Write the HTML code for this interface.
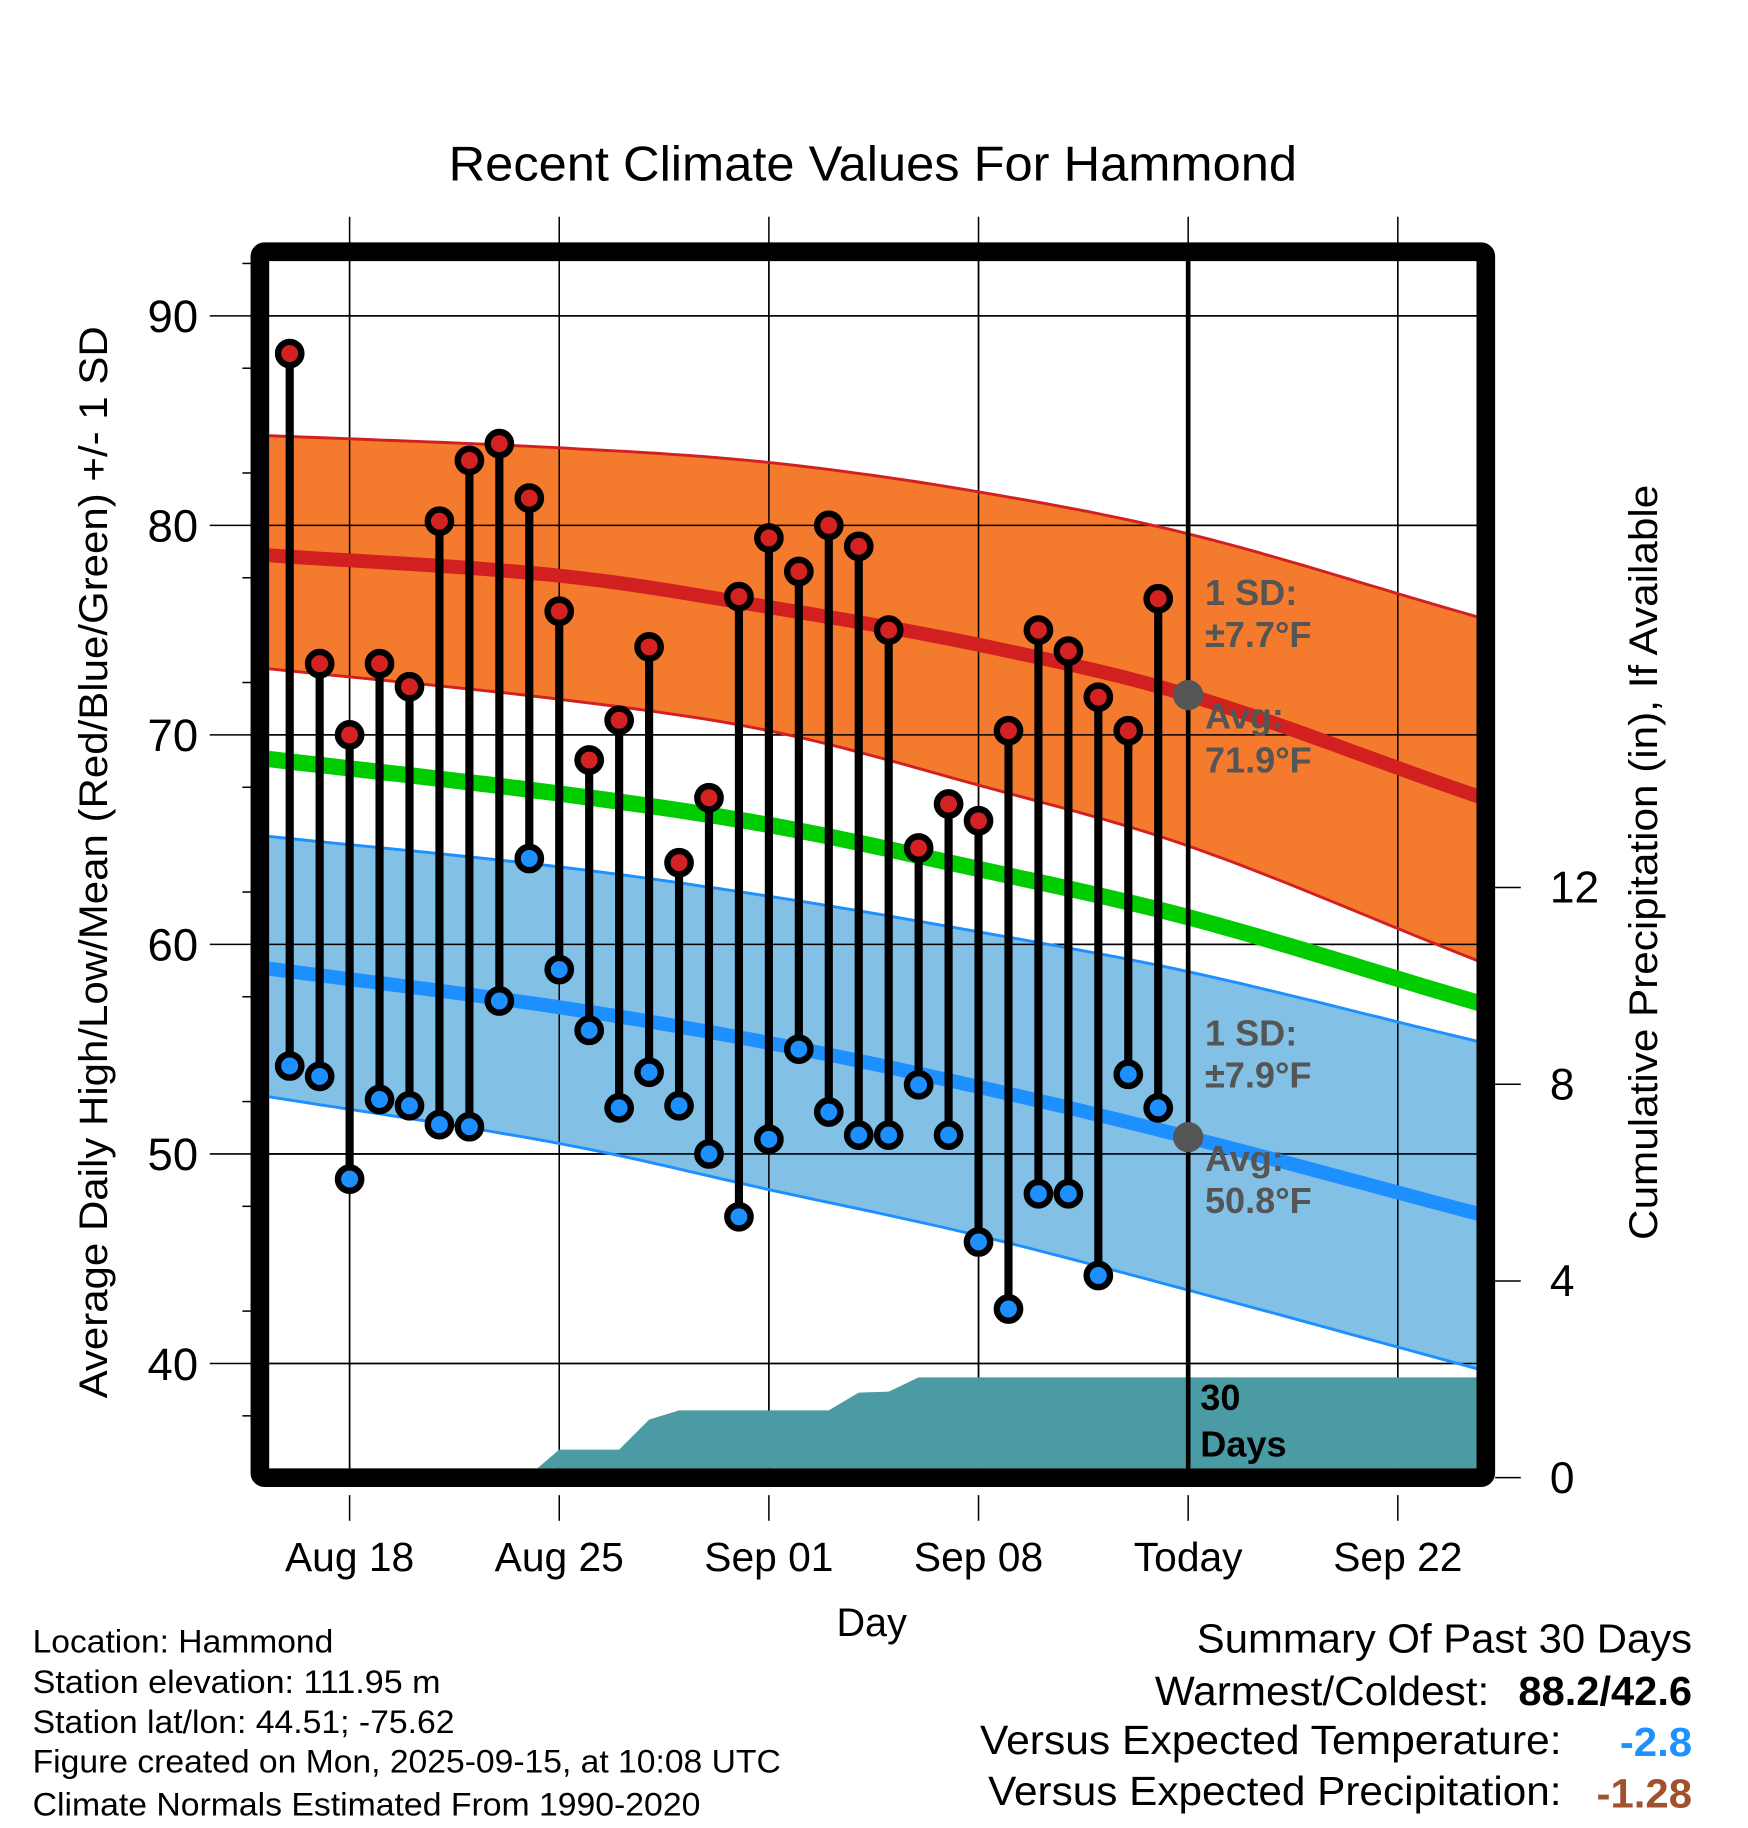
<!DOCTYPE html>
<html><head><meta charset="utf-8"><style>html,body{margin:0;padding:0;background:#fff}svg{display:block}text{font-family:"Liberation Sans",sans-serif}</style></head>
<body>
<svg id="chart" width="1748" height="1828" viewBox="0 0 1500 1568.6" xmlns="http://www.w3.org/2000/svg">
<defs><clipPath id="pc"><rect x="231" y="224" width="1036" height="1036"/></clipPath></defs>
<text x="749" y="155" font-size="42" text-anchor="middle" textLength="728" lengthAdjust="spacingAndGlyphs">Recent Climate Values For Hammond</text>
<g id="plot"></g>
<text transform="translate(92,740) rotate(-90)" font-size="34" text-anchor="middle" textLength="920" lengthAdjust="spacingAndGlyphs">Average Daily High/Low/Mean (Red/Blue/Green) +/- 1 SD</text>
<text transform="translate(1422,740) rotate(-90)" font-size="34" text-anchor="middle" textLength="648" lengthAdjust="spacingAndGlyphs">Cumulative Precipitation (in), If Available</text>
<text x="748" y="1404" font-size="34" text-anchor="middle">Day</text>
<g font-size="28">
<text x="28" y="1418" textLength="258" lengthAdjust="spacingAndGlyphs">Location: Hammond</text>
<text x="28" y="1453" textLength="350" lengthAdjust="spacingAndGlyphs">Station elevation: 111.95 m</text>
<text x="28" y="1487" textLength="362" lengthAdjust="spacingAndGlyphs">Station lat/lon: 44.51; -75.62</text>
<text x="28" y="1521" textLength="642" lengthAdjust="spacingAndGlyphs">Figure created on Mon, 2025-09-15, at 10:08 UTC</text>
<text x="28" y="1558" textLength="573" lengthAdjust="spacingAndGlyphs">Climate Normals Estimated From 1990-2020</text>
</g>
<g font-size="35">
<text x="1027" y="1418" textLength="425" lengthAdjust="spacingAndGlyphs">Summary Of Past 30 Days</text>
<text x="991" y="1463" textLength="287" lengthAdjust="spacingAndGlyphs">Warmest/Coldest:</text>
<text x="1303" y="1463" font-weight="bold" textLength="149" lengthAdjust="spacingAndGlyphs">88.2/42.6</text>
<text x="841" y="1505" textLength="499" lengthAdjust="spacingAndGlyphs">Versus Expected Temperature:</text>
<text x="1390" y="1507" font-weight="bold" fill="#1e90ff" textLength="62" lengthAdjust="spacingAndGlyphs">-2.8</text>
<text x="848" y="1549" textLength="492" lengthAdjust="spacingAndGlyphs">Versus Expected Precipitation:</text>
<text x="1370" y="1551" font-weight="bold" fill="#a0522d" textLength="82" lengthAdjust="spacingAndGlyphs">-1.28</text>
</g>
</svg>
<script>
const NS="http://www.w3.org/2000/svg";
const highs=[88.2,73.4,70.0,73.4,72.3,80.2,83.1,83.9,81.3,75.9,68.8,70.7,74.2,63.9,67.0,76.6,79.4,77.8,80.0,79.0,75.0,64.6,66.7,65.9,70.2,75.0,74.0,71.8,70.2,76.5];
const lows=[54.2,53.7,48.8,52.6,52.3,51.4,51.3,57.3,64.1,58.8,55.9,52.2,53.9,52.3,50.0,47.0,50.7,55.0,52.0,50.9,50.9,53.3,50.9,45.8,42.6,48.1,48.1,44.2,53.8,52.2];
const precip=[0,0,0,0,0,0,0,0,0.05,0.57,0.57,0.57,1.18,1.37,1.37,1.37,1.37,1.37,1.37,1.73,1.75,2.04,2.04,2.04,2.04,2.04,2.04,2.04,2.04,2.04];
const normDays=[0,10,17,24,31,40];
const highAvg=[78.6,77.6,76.1,74.3,71.9,67.4];
const highUp=[84.3,83.7,83.0,81.6,79.6,75.9];
const highLo=[73.2,71.7,70.2,67.6,64.7,59.6];
const meanAvg=[68.9,67.2,65.7,63.6,61.3,57.5];
const lowAvg=[58.9,57.0,55.3,53.2,50.8,47.4];
const lowUp=[65.2,63.7,62.3,60.6,58.7,55.6];
const lowLo=[52.8,50.5,48.3,46.1,43.5,40.0];
const xTickDays=[3,10,17,24,31,38];
const xTickLabels=["Aug 18","Aug 25","Sep 01","Sep 08","Today","Sep 22"];
const yTicks=[40,50,60,70,80,90];
const y2Ticks=[0,4,8,12];
const firstDay=1, todayDay=31;

const L=231,R=1267,T=224,B=1260;
const xs=d=>300+(d-3)*25.7;
const ys=v=>1170-(v-40)*17.98;
const yp=p=>1268-p*42.2;
const plot=document.getElementById('plot');
function el(tag,attrs,parent){const e=document.createElementNS(NS,tag);for(const k in attrs)e.setAttribute(k,attrs[k]);(parent||plot).appendChild(e);return e;}
function interp(arr,d){
  const n=normDays.length;
  let i=0;while(i<n-2&&d>normDays[i+1])i++;
  const x0=normDays[i],x1=normDays[i+1],h=x1-x0,t=Math.min(1.2,Math.max(-0.2,(d-x0)/h));
  const slope=k=>{if(k===0)return (arr[1]-arr[0])/(normDays[1]-normDays[0]);if(k===n-1)return (arr[n-1]-arr[n-2])/(normDays[n-1]-normDays[n-2]);return (arr[k+1]-arr[k-1])/(normDays[k+1]-normDays[k-1]);};
  const m0=slope(i)*h,m1=slope(i+1)*h,t2=t*t,t3=t2*t;
  return (2*t3-3*t2+1)*arr[i]+(t3-2*t2+t)*m0+(-2*t3+3*t2)*arr[i+1]+(t3-t2)*m1;
}
function sample(arr){const pts=[];const d0=(L-10-300)/25.7+3,d1=(R+10-300)/25.7+3;for(let k=0;k<=80;k++){const d=d0+(d1-d0)*k/80;pts.push([xs(d),ys(interp(arr,d))]);}return pts;}
const ps=p=>p.map(q=>q[0].toFixed(1)+','+q[1].toFixed(1)).join(' ');

for(const d of xTickDays){const g=el('line',{x1:xs(d),x2:xs(d),y1:186,y2:B,stroke:'#000','stroke-width':1.3});}
for(const v of yTicks){const g=el('line',{x1:180,x2:R,y1:ys(v),y2:ys(v),stroke:'#000','stroke-width':1.3});}
const cg=el('g',{'clip-path':'url(#pc)'});


function band(up,lo,fill,name){const a=sample(up),b=sample(lo).reverse();const p=el('polygon',{points:ps(a.concat(b)),fill:fill},cg);}
band(highUp,highLo,'#f47a2e','high-sd-band');
band(lowUp,lowLo,'#82c0e6','low-sd-band');
for(const v of yTicks){el('line',{x1:L,x2:R,y1:ys(v),y2:ys(v),stroke:'#000','stroke-width':1.3},cg);}
for(const d of xTickDays){el('line',{x1:xs(d),x2:xs(d),y1:T,y2:B,stroke:'#000','stroke-width':1.3},cg);}
function line(arr,color,w,name){const p=el('polyline',{points:ps(sample(arr)),fill:'none',stroke:color,'stroke-width':w},cg);}
line(highUp,'#d22020',2.5,'high-upper-sd');line(highLo,'#d22020',2.5,'high-lower-sd');
line(lowUp,'#1e8fff',2.5,'low-upper-sd');line(lowLo,'#1e8fff',2.5,'low-lower-sd');
line(highAvg,'#d22020',12,'avg-high-line');line(meanAvg,'#00cc00',14,'avg-mean-line');line(lowAvg,'#1e8fff',12,'avg-low-line');
{const pts=[[L,yp(0)]];pts.push([L,yp(precip[0])]);precip.forEach((p,i)=>pts.push([xs(firstDay+i),yp(p)]));pts.push([R,yp(precip[precip.length-1])]);pts.push([R,yp(0)]);
const pp=el('polygon',{points:ps(pts),fill:'#4a9ba4'},cg);}
{const t=el('line',{x1:xs(todayDay),x2:xs(todayDay),y1:T,y2:B,stroke:'#000','stroke-width':4});}
highs.forEach((h,i)=>{const x=xs(firstDay+i);const s=el('line',{x1:x,x2:x,y1:ys(h),y2:ys(lows[i]),stroke:'#000','stroke-width':7});});
highs.forEach((h,i)=>{const x=xs(firstDay+i);
const a=el('circle',{cx:x,cy:ys(h),r:10,fill:'#d42222',stroke:'#000','stroke-width':5.5});
const b=el('circle',{cx:x,cy:ys(lows[i]),r:10,fill:'#1e8fff',stroke:'#000','stroke-width':5.5});});
{const a=el('circle',{cx:xs(todayDay),cy:ys(interp(highAvg,todayDay)),r:13,fill:'#555'});
const b=el('circle',{cx:xs(todayDay),cy:ys(interp(lowAvg,todayDay)),r:13,fill:'#555'});}
function txt(x,y,s,attrs,name){const t=el('text',Object.assign({x:x,y:y},attrs));t.textContent=s;return t;}
const ann={'font-size':31,'font-weight':'bold',fill:'#555'};
txt(1034,519,'1 SD:',ann,'high-sd-label');txt(1034,555,'±7.7°F',ann,'high-sd-value');
txt(1034,625,'Avg:',ann,'high-avg-label');txt(1034,663,'71.9°F',ann,'high-avg-value');
txt(1034,897,'1 SD:',ann,'low-sd-label');txt(1034,933,'±7.9°F',ann,'low-sd-value');
txt(1034,1005,'Avg:',ann,'low-avg-label');txt(1034,1041,'50.8°F',ann,'low-avg-value');
txt(1030,1210,'30',{'font-size':31,'font-weight':'bold'},'days-label');txt(1030,1250,'Days',{'font-size':31,'font-weight':'bold'},'days-label-2');
{const f=el('rect',{x:223,y:216,width:1052,height:1052,fill:'none',stroke:'#000','stroke-width':16,rx:4});}
yTicks.forEach(v=>{txt(170,ys(v)+14,String(v),{'font-size':39,'text-anchor':'end'},'y-tick-label');});
for(let v=37.5;v<=92.5;v+=5){if(v%10!==0)el('line',{x1:208,x2:215,y1:ys(v),y2:ys(v),stroke:'#000','stroke-width':1.3});}
y2Ticks.forEach(p=>{el('line',{x1:1283,x2:1305,y1:yp(p),y2:yp(p),stroke:'#000','stroke-width':1.3});txt(1330,yp(p)+13,String(p),{'font-size':38},'y2-tick-label');});
xTickDays.forEach((d,i)=>{el('line',{x1:xs(d),x2:xs(d),y1:1283,y2:1305,stroke:'#000','stroke-width':1.3});txt(xs(d),1348,xTickLabels[i],{'font-size':35,'text-anchor':'middle'},'x-tick-label');});
</script>
</body></html>
